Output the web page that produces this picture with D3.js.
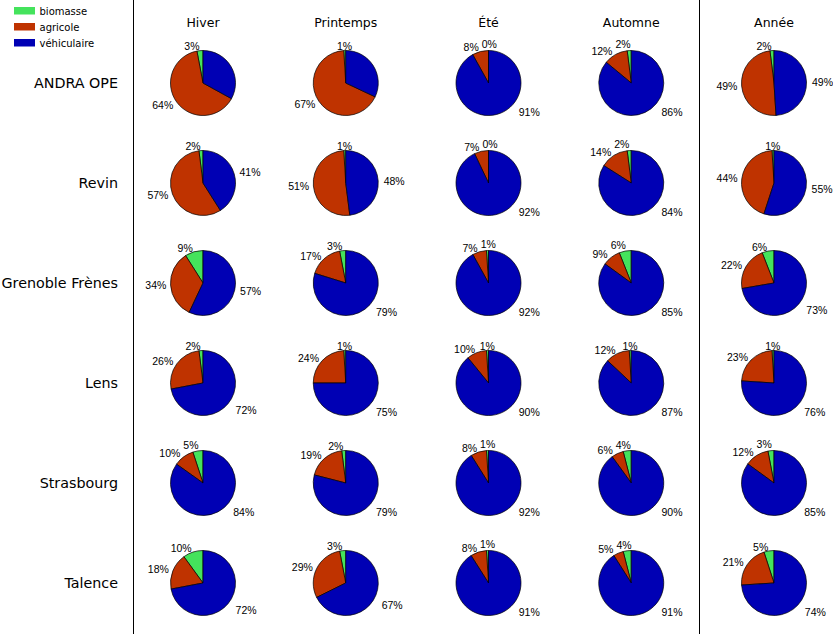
<!DOCTYPE html>
<html>
<head>
<meta charset="utf-8">
<script src="https://cdn.jsdelivr.net/npm/d3@7"></script>
<style>
  html, body { margin: 0; padding: 0; background: #fff; }
  svg { display: block; }
</style>
</head>
<body>
<div id="chart"></div>
<script>
// ---- data ----
const sites = ["ANDRA OPE", "Revin", "Grenoble Frènes", "Lens", "Strasbourg", "Talence"];
const periods = ["Hiver", "Printemps", "Été", "Automne", "Année"];
const sources = ["biomasse", "agricole", "véhiculaire"];
// percentages per site (rows) and period (columns)
const biomasse = [
  [3, 1, 0, 2, 2],
  [2, 1, 0, 2, 1],
  [9, 3, 1, 6, 6],
  [2, 1, 1, 1, 1],
  [5, 2, 1, 4, 3],
  [10, 3, 1, 4, 5]
];
const agricole = [
  [64, 67, 8, 12, 49],
  [57, 51, 7, 14, 44],
  [34, 17, 7, 9, 22],
  [26, 24, 10, 12, 23],
  [10, 19, 8, 6, 12],
  [18, 29, 8, 5, 21]
];
const vehiculaire = [
  [33, 32, 91, 86, 49],
  [41, 48, 92, 84, 55],
  [57, 79, 92, 85, 73],
  [72, 75, 90, 87, 76],
  [84, 79, 92, 90, 85],
  [72, 67, 91, 91, 74]
];
const colors = ["#44e35c", "#bf3300", "#0000b4"];

// ---- layout ----
const W = 833, H = 634;
const R = 32.5;
const svg = d3.select("#chart").append("svg").attr("width", W).attr("height", H);

const x = d3.scalePoint().domain(periods).range([203, 774]);
const y = d3.scalePoint().domain(sites).range([83, 583]);
const color = d3.scaleOrdinal().domain(sources).range(colors);

// separators
[x(periods[0]) - 69.5, x(periods[periods.length - 1]) - 74.5].forEach(px => {
  svg.append("line").attr("x1", px).attr("x2", px).attr("y1", 0).attr("y2", H)
    .attr("stroke", "#000").attr("stroke-width", 1);
});

// legend
const leg = svg.append("g").attr("transform", "translate(14,7)");
sources.forEach((s, i) => {
  const g = leg.append("g").attr("transform", `translate(0,${i * 16})`);
  g.append("rect").attr("width", 21).attr("height", 7.5).attr("fill", color(s));
  g.append("text").attr("x", 25.5).attr("y", 4).attr("dominant-baseline", "central")
    .attr("font-family", "DejaVu Sans").attr("font-size", 10).text(s);
});

// column titles
svg.selectAll("text.coltitle").data(periods).enter().append("text")
  .attr("class", "coltitle")
  .attr("x", d => x(d)).attr("y", 27)
  .attr("text-anchor", "middle")
  .attr("font-family", "DejaVu Sans").attr("font-size", 12.5)
  .text(d => d);

// row labels
svg.selectAll("text.rowtitle").data(sites).enter().append("text")
  .attr("class", "rowtitle")
  .attr("x", 118).attr("y", d => y(d) + 5)
  .attr("text-anchor", "end")
  .attr("font-family", "DejaVu Sans").attr("font-size", 14.3)
  .text(d => d);

const pie = d3.pie().sort(null).value(d => d.v).startAngle(0).endAngle(-2 * Math.PI);
const arc = d3.arc().innerRadius(0).outerRadius(R);

sites.forEach((site, i) => {
  periods.forEach((per, j) => {
    const vals = [
      { s: "biomasse", v: biomasse[i][j] },
      { s: "agricole", v: agricole[i][j] },
      { s: "véhiculaire", v: vehiculaire[i][j] }
    ];
    const arcs = pie(vals);
    const g = svg.append("g").attr("transform", `translate(${x(per)},${y(site)})`);
    g.selectAll("path").data(arcs).enter().append("path")
      .attr("d", arc)
      .attr("fill", d => color(d.data.s))
      .attr("stroke", "#000").attr("stroke-width", 0.7).attr("stroke-linejoin", "round");

    const labels = [];
    arcs.forEach((a, k) => {
      let mid = (a.startAngle + a.endAngle) / 2; // negative (ccw)
      const frac = -mid / (2 * Math.PI);
      let dist = R * 1.13;
      if (k === 2) {
        if (frac > 0.8) return; // label not shown in reference
        const f = Math.max(frac, 0.627);
        mid = -f * 2 * Math.PI;
        dist = frac > 0.7 ? R * 1.17 : R * 1.3;
      }
      const lx = Math.sin(mid) * dist;
      const ly = -Math.cos(mid) * dist;
      const anchor = Math.abs(lx) < 1.5 ? "middle" : (lx > 0 ? "start" : "end");
      const t = g.append("text")
        .attr("x", lx).attr("y", ly)
        .attr("text-anchor", anchor)
        .attr("dominant-baseline", "central")
        .attr("font-family", "Liberation Sans, Arial, sans-serif")
        .attr("font-size", 10.5)
        .text(a.data.v + "%");
      const w = t.node().getComputedTextLength();
      const x0 = anchor === "start" ? lx : anchor === "end" ? lx - w : lx - w / 2;
      labels[k] = { t, x0, w, y: ly };
    });

    // keep the two small top labels from overlapping
    const b = labels[0], ag = labels[1];
    if (b && ag && Math.abs(b.y - ag.y) < 11) {
      const overlap = (ag.x0 + ag.w + 3) - b.x0;
      if (overlap > 0) {
        const shiftB = overlap * 0.6, shiftA = overlap * 0.4;
        b.t.attr("text-anchor", "start").attr("x", b.x0 + shiftB).attr("y", b.y - 2);
        ag.t.attr("text-anchor", "start").attr("x", ag.x0 - shiftA);
      }
    }
  });
});
</script>
</body>
</html>
